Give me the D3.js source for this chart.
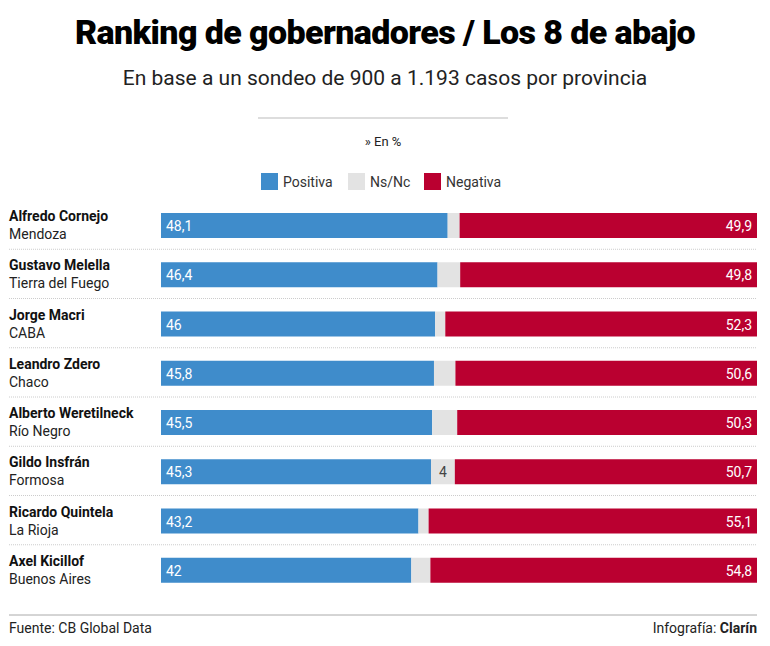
<!DOCTYPE html>
<html><head><meta charset="utf-8">
<script src="https://cdn.jsdelivr.net/npm/d3@7"></script>
<style>body{margin:0;background:#fff;font-family:Roboto,sans-serif}</style>
</head><body><svg id="c" width="770" height="646"></svg>
<script>
var names = ["Alfredo Cornejo","Gustavo Melella","Jorge Macri","Leandro Zdero","Alberto Weretilneck","Gildo Insfrán","Ricardo Quintela","Axel Kicillof"];
var provinces = ["Mendoza","Tierra del Fuego","CABA","Chaco","Río Negro","Formosa","La Rioja","Buenos Aires"];
var positiva = [48.1,46.4,46,45.8,45.5,45.3,43.2,42];
var nsnc = [2,3.8,1.7,3.6,4.2,4,1.7,3.2];
var negativa = [49.9,49.8,52.3,50.6,50.3,50.7,55.1,54.8];
var colors = {pos:"#3f8ccb", ns:"#e3e3e3", neg:"#ba0030"};

var svg = d3.select("#c");
var fmt = function(v){ return String(v).replace(".", ","); };

svg.append("text").attr("x",385).attr("y",44).attr("text-anchor","middle")
  .attr("font-family","Roboto").attr("font-weight",900).attr("font-size",34).attr("letter-spacing",-0.6)
  .text("Ranking de gobernadores / Los 8 de abajo");
svg.append("text").attr("x",385).attr("y",85).attr("text-anchor","middle")
  .attr("font-size",21).attr("fill","#222").text("En base a un sondeo de 900 a 1.193 casos por provincia");
svg.append("line").attr("x1",258).attr("x2",508).attr("y1",118).attr("y2",118).attr("stroke","#bbb");
svg.append("text").attr("x",383).attr("y",146).attr("text-anchor","middle").attr("font-size",13).attr("fill","#222").text("» En %");

// legend
var leg = [["Positiva",colors.pos,261],["Ns/Nc",colors.ns,348],["Negativa",colors.neg,424]];
leg.forEach(function(d){
  svg.append("rect").attr("x",d[2]).attr("y",173).attr("width",17).attr("height",17).attr("fill",d[1]);
  svg.append("text").attr("x",d[2]+22).attr("y",187).attr("font-size",14).attr("fill","#333").text(d[0]);
});

var x = d3.scaleLinear().domain([0,100]).range([161,757]);
var y = d3.scaleBand().domain(d3.range(names.length)).range([201,595]).paddingInner(0);

var g = svg.selectAll("g.row").data(names).join("g").attr("class","row")
  .attr("transform",function(d,i){ return "translate(0,"+y(i)+")"; });

g.append("text").attr("x",9).attr("y",20).attr("font-weight",700).attr("font-size",14).attr("fill","#111").text(function(d){return d;});
g.append("text").attr("x",9).attr("y",38).attr("font-size",14).attr("fill","#222").text(function(d,i){return provinces[i];});

var by = 12, bh = 25;
g.append("rect").attr("x",x(0)).attr("y",by).attr("height",bh)
  .attr("width",function(d,i){return x(positiva[i])-x(0);}).attr("fill",colors.pos);
g.append("rect").attr("x",function(d,i){return x(positiva[i]);}).attr("y",by).attr("height",bh)
  .attr("width",function(d,i){return x(positiva[i]+nsnc[i])-x(positiva[i]);}).attr("fill",colors.ns);
g.append("rect").attr("x",function(d,i){return x(positiva[i]+nsnc[i]);}).attr("y",by).attr("height",bh)
  .attr("width",function(d,i){return x(100)-x(positiva[i]+nsnc[i]);}).attr("fill",colors.neg);

g.append("text").attr("x",x(0)+5).attr("y",by+18).attr("font-size",14).attr("fill","#fff").text(function(d,i){return fmt(positiva[i]);});
g.append("text").attr("x",x(100)-5).attr("y",by+18).attr("text-anchor","end").attr("font-size",14).attr("fill","#fff").text(function(d,i){return fmt(negativa[i]);});
g.filter(function(d,i){return i===5;}).append("text")
  .attr("x",function(d,i){return x(positiva[5]+nsnc[5]/2);}).attr("y",by+18).attr("text-anchor","middle")
  .attr("font-size",14).attr("fill","#444").text(fmt(nsnc[5]));

g.filter(function(d,i){return i<names.length-1;}).append("line")
  .attr("x1",9).attr("x2",757).attr("y1",y.bandwidth()-1).attr("y2",y.bandwidth()-1)
  .attr("stroke","#ccc").attr("stroke-dasharray","1,1");

svg.append("line").attr("x1",9).attr("x2",757).attr("y1",615).attr("y2",615).attr("stroke","#aaa");
svg.append("text").attr("x",9).attr("y",633).attr("font-size",14).attr("fill","#222").text("Fuente: CB Global Data");
var cr = svg.append("text").attr("x",757).attr("y",633).attr("text-anchor","end").attr("font-size",14).attr("fill","#222");
cr.append("tspan").text("Infografía: ");
cr.append("tspan").attr("font-weight",700).text("Clarín");
</script></body></html>
